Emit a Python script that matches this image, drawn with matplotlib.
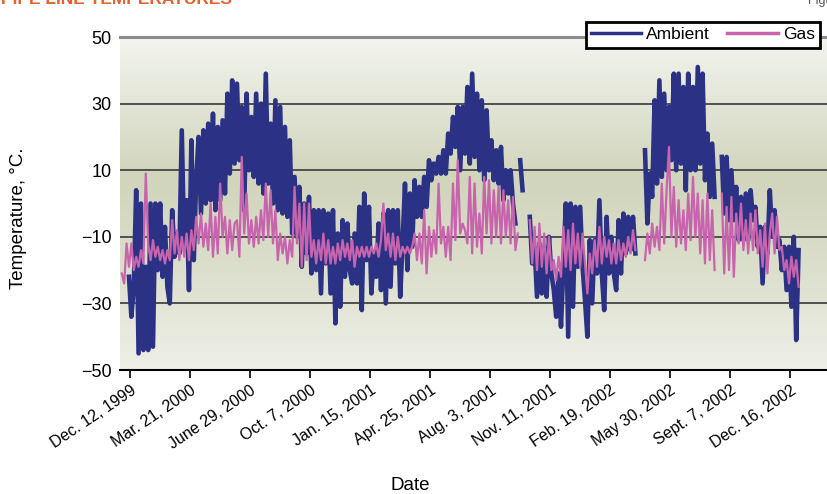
import matplotlib
matplotlib.use("Agg")
import matplotlib.pyplot as plt
from matplotlib.colors import LinearSegmentedColormap
import numpy as np
import pandas as pd

nan = np.nan

# readings every 4 days, starting 14 days before Dec. 12, 1999
ambient = [
    nan, nan, nan,
    -22, -34, -25, 4, -45, 0, -44, -19, -44, 0, -43, 0, -20, 0, -22, -7, -25, -30, -2, -16,
    -9, -15, 22, -13, 1, -26, 19, -17, 7, 20, -3, 22, 0, 24, 1, 27, -2, 23, 1, 25, 3, 33, 9, 37, 12,
    36, 13, 29, -2, 33, 10, 26, 8, 33, 6, 30, 3, 39, 6, 24, 0, 31, -2, 29, -3, 23, -4, 19, -9,
    8, -10, 5, -19, 0, -15, 2, -21, -2, -20, -2, -27, -2, -18, -3, -27, -2, -36, -9, -31, -5, -22, -6, -20,
    -24, -9, -24, -1, -32, 3, -17, -1, -27, -15, -22, -6, -26, -3, -30, -2, -25, -2, -18, -2,
    -28, -12, 6, -20, 3, -13, 7, -4, 5, -4, 8, -1, 13, 7, 12, 9, 14, 9, 16, 9, 21, 15, 26, 17, 29, 10, 29,
    15, 35, 12, 39, 14, 33, 10, 31, 7, 28, 10, 19, 7, 16, 6, 17, 1, 10, 3, 10, 0, -6, nan, 13, 4, nan,
    nan, -4, -18, -13, -28, -12, -27, -13, -28, -10, -21, -26, -34, -21, -37, -19, 0, -40, 0, -31, -1, -19,
    -1, -19, -29, -40, -11, -30, -11, -21, 1, -21, -32, -4, -21, -10, -21, -26, -5, -21, -3, -15,
    -4, -14, -4, -15, nan, nan, nan, 16, -6, 9, 2, 31, 6, 37, 8, 33, 10, 29, 13, 39, 10, 39, 12, 35, 4, 39, 10, 35,
    10, 41, 12, 39, 7, 21, 2, 18, 2, nan, nan, 14, -3, 14, -5, 10, -5, 5, -11, 2, -11, 3, -11, 4,
    -5, -1, -13, -7, -24, -7, -15, 4, -10, -2, -13, -11, -20, -13, -26, -13, -31, -10, -41, -14,
]

gas = [
    -21, -24, -12,
    -19, -12, -20, -16, -19, -14, -18, 9, -12, -17, -11, -16, -13, -17, -14, -18, -14, -17, -5, -15,
    -8, -17, -10, -16, -9, -17, -8, -14, -4, -12, -3, -13, -6, -14, 0, -16, -4, -15, 6, -10, -4, -15, -5, -14, -6,
    -5, -16, 14, -9, 3, -12, -5, -13, -4, -12, -2, -11, 6, -10, 4, -12, -2, -17, -9, -15, -10, -18, -11, -16,
    5, -12, 0, -19, 0, -17, 0, -16, -11, -18, -11, -17, -9, -18, -11, -18, -13, -18, -12, -17, -11, -16, -12, -17,
    -11, -19, -13, -16, -13, -16, -13, -16, -13, -15, -12, -16, -11, 0, -14, -9, -16, -9, -17, -10,
    -16, -13, -15, -13, -15, -13, -9, -17, -9, -18, -2, -21, -7, -16, -8, -15, 6, -12, -7, -16, -7, -17, 6, -11, 13, -9, -6,
    -8, -12, 8, -15, 6, -13, -3, -15, 8, -9, 7, -12, 4, -10, 5, -12, 4, -10, 1, -12, 2, -14, -9, nan, nan, nan,
    nan, -5, -18, -7, -20, -6, -19, -9, -21, -10, -20, -17, -23, -16, -22, -7, -19, -8, -20, -6, -18, -9,
    -19, -9, -18, -27, -15, -21, -11, -19, -7, -18, -10, -16, -11, -18, -12, -18, -11, -17, -12, -16,
    -10, -15, -8, -14, nan, nan, nan, -17, -9, -15, -6, -13, -7, -14, 6, -12, 4, 17, -10, 5, -13, 1, -12, -2, -14, 3, -11, 8,
    -10, 3, -15, 1, -18, 3, -17, -2, -20, nan, nan, 3, -21, -1, -20, 2, -22, -3, -12, 0, -14, -5, -15, -3,
    -14, -2, -15, -8, -19, -6, -21, -9, -3, -15, -4, -14, -13, -20, -17, -24, -16, -22, -17, -25,
]

tick_labels = ["Dec. 12, 1999", "Mar. 21, 2000", "June 29, 2000", "Oct. 7, 2000",
               "Jan. 15, 2001", "Apr. 25, 2001", "Aug. 3, 2001", "Nov. 11, 2001",
               "Feb. 19, 2002", "May 30, 2002", "Sept. 7, 2002", "Dec. 16, 2002"]

first_tick = pd.Timestamp("1999-12-12")
dates = pd.date_range(first_tick - pd.Timedelta(days=14), periods=len(ambient), freq="4D")
tick_dates = pd.date_range(first_tick, periods=len(tick_labels), freq="100D")

plt.rcParams["font.family"] = ["Liberation Sans", "DejaVu Sans"]

fig = plt.figure(figsize=(8.28, 4.94), dpi=100)
ax = fig.add_axes([0.1449, 0.251, 0.8551, 0.674])

# gradient background
cmap = LinearSegmentedColormap.from_list(
    "bg", [(0.0, "#eef0e9"), (0.3, "#dcdfcc"), (0.58, "#d1d5bc"), (0.8, "#e2e5d6"), (1.0, "#f3f5ef")])
grad = np.linspace(0, 1, 256).reshape(-1, 1)
ax.imshow(grad, cmap=cmap, aspect="auto", origin="lower", extent=[0, 1, 0, 1],
          transform=ax.transAxes, zorder=0)

for v in [30, 10, -10, -30]:
    ax.axhline(v, color="#454545", lw=1.3, zorder=1)
ax.axhline(50, color="#8c8c8c", lw=2.2, zorder=1, clip_on=False)

ax.plot(dates, ambient, color="#2b3286", lw=3.3, label="Ambient", zorder=2)
ax.plot(dates, gas, color="#c864ad", lw=1.6, label="Gas", zorder=3)

ax.set_xlim(first_tick - pd.Timedelta(days=17), first_tick + pd.Timedelta(days=1163))
ax.set_ylim(-50, 50)
ax.set_yticks([-50, -30, -10, 10, 30, 50])
ax.tick_params(axis="y", length=0, labelsize=13, pad=6)
ax.set_xticks(tick_dates)
ax.set_xticklabels(tick_labels, rotation=34, ha="right", rotation_mode="anchor", fontsize=11.5)
ax.tick_params(axis="x", length=6, width=1.2, direction="out", pad=3)

for s in ["left", "right", "top"]:
    ax.spines[s].set_visible(False)
ax.spines["bottom"].set_linewidth(1.5)

ax.set_xlabel("Date", fontsize=13.5)
ax.xaxis.set_label_coords(0.41, -0.32)
ax.set_ylabel("Temperature, °C.", fontsize=13.5)
ax.yaxis.set_label_coords(-0.131, 0.456)

leg = ax.legend(loc="upper right", bbox_to_anchor=(0.989, 1.045), ncol=2, fontsize=12.5,
                handlelength=2.9, handletextpad=0.3, columnspacing=1.0,
                fancybox=False, framealpha=1, borderpad=0.3, borderaxespad=0)
leg.get_frame().set_edgecolor("black")
leg.get_frame().set_linewidth(2)
leg.set_zorder(5)
for line in leg.get_lines():
    line.set_linewidth(2.5)

fig.text(0.28, 1 - 4 / 494, "PIPE LINE TEMPERATURES", ha="right", va="baseline",
         fontsize=12.5, fontweight="bold", color="#e8602c")
fig.text(0.976, 1 - 4 / 494, "Figure", ha="left", va="baseline", fontsize=9, color="#555555")

fig.savefig("out.png", dpi=100)
